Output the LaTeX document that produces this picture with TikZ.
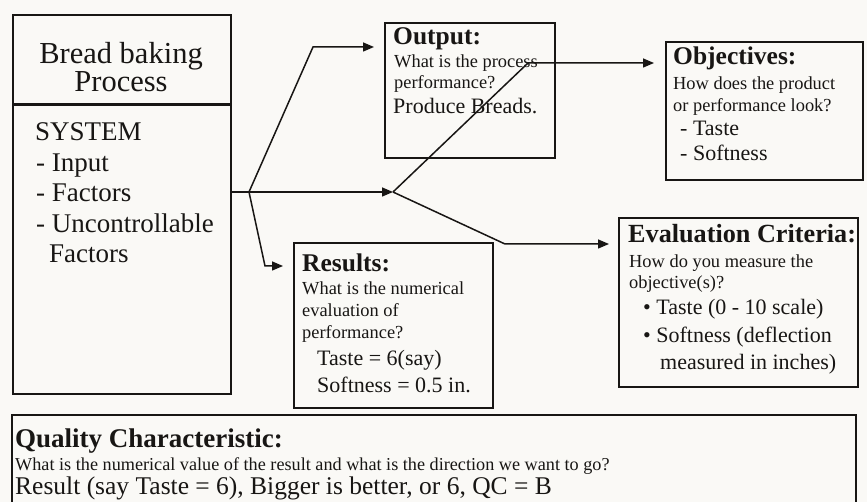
\documentclass[tikz,border=0pt]{standalone}
\usepackage{fontspec}
\setmainfont{Liberation Serif}
\usetikzlibrary{arrows.meta}
\definecolor{paper}{RGB}{250,249,246}
\definecolor{ink}{RGB}{24,22,20}
\begin{document}
\begin{tikzpicture}[x=1pt,y=-1pt,
  frame/.style={draw=ink,line width=1.6pt},
  ln/.style={anchor=base west,inner sep=0pt,text=ink},
  title/.style={ln,anchor=base,font=\fontsize{30.5}{30}\selectfont},
  item/.style={ln,font=\fontsize{27}{27}\selectfont},
  hdr/.style={ln,font=\fontsize{25.5}{25}\selectfont\bfseries},
  ask/.style={ln,font=\fontsize{18.4}{18}\selectfont},
  val/.style={ln,font=\fontsize{22}{22}\selectfont},
  link/.style={draw=ink,line width=1.5pt,line join=miter},
  tip/.style={link,-{Triangle[length=11pt,width=9pt]}}]
\useasboundingbox[fill=paper] (0,0) rectangle (867,502);

% boxes
\draw[frame] (13,15) rectangle (231,394);
\draw[ink,line width=3pt] (13,105) -- (231,105);
\draw[frame] (385,23) rectangle (555,158);
\draw[frame] (666,42) rectangle (863,180);
\draw[frame] (294,243) rectangle (493,408);
\draw[frame] (619,218) rectangle (858,387);
\draw[frame] (12,415) rectangle (856,520);

% process box
\node[title] (t1) at (121,64) {Bread baking};
\node[title] (t2) at (121,92) {Process};
\node[item] (s1) at (35,141) {SYSTEM};
\node[item] (s2) at (36,172) {- Input};
\node[item] (s3) at (36,202) {- Factors};
\node[item] (s4) at (36,233) {- Uncontrollable};
\node[item] (s5) at (49,263) {Factors};

% output box
\node[hdr] (o1) at (393,45) {Output:};
\node[ask] (o2) at (394,68) {What is the process};
\node[ask] (o3) at (394,89) {performance?};
\node[val] (o4) at (393,114) {Produce Breads.};

% objectives box
\node[hdr] (b1) at (673,65) {Objectives:};
\node[ask] (b2) at (673,90) {How does the product};
\node[ask] (b3) at (673,112) {or performance look?};
\node[val] (b4) at (680,136) {- Taste};
\node[val] (b5) at (680,161) {- Softness};

% results box
\node[hdr] (r1) at (302,272) {Results:};
\node[ask] (r2) at (302,295) {What is the numerical};
\node[ask] (r3) at (302,317) {evaluation of};
\node[ask] (r4) at (302,339) {performance?};
\node[val] (r5) at (317,365) {Taste = 6(say)};
\node[val] (r6) at (317,392) {Softness = 0.5 in.};

% evaluation box
\node[hdr,font=\fontsize{26.2}{26}\selectfont\bfseries] (e1) at (628,243) {Evaluation Criteria:};
\node[ask] (e2) at (629,268) {How do you measure the};
\node[ask] (e3) at (629,289) {objective(s)?};
\node[val] (e4) at (643,315) {\textbullet\ Taste (0 - 10 scale)};
\node[val] (e5) at (643,343) {\textbullet\ Softness (deflection};
\node[val] (e6) at (660,370) {measured in inches)};

% quality characteristic box
\node[ln,font=\fontsize{27}{27}\selectfont\bfseries] (q1) at (15,447) {Quality Characteristic:};
\node[ln,font=\fontsize{18.2}{18}\selectfont] (q2) at (15,470) {What is the numerical value of the result and what is the direction we want to go?};
\node[ln,font=\fontsize{25.5}{25}\selectfont] (q3) at (15,494) {Result (say Taste = 6), Bigger is better, or 6, QC = B};

% connectors
\coordinate (src) at (231,192);
\coordinate (fork) at (249,192);
\coordinate (hub) at (393,192);
\coordinate (upA) at (313,47);
\coordinate (toOut) at (374,47);
\coordinate (downA) at (265,266);
\coordinate (toRes) at (283,266);
\coordinate (upB) at (528,63);
\coordinate (toObj) at (654,63);
\coordinate (downB) at (505,244);
\coordinate (toEval) at (609,244);

\draw[link] (src) -- (fork);
\draw[tip] (fork) -- (upA) -- (toOut);
\draw[tip] (fork) -- (hub);
\draw[tip] (fork) -- (downA) -- (toRes);
\draw[tip] (hub) -- (upB) -- (toObj);
\draw[tip] (hub) -- (downB) -- (toEval);
\end{tikzpicture}
\end{document}
